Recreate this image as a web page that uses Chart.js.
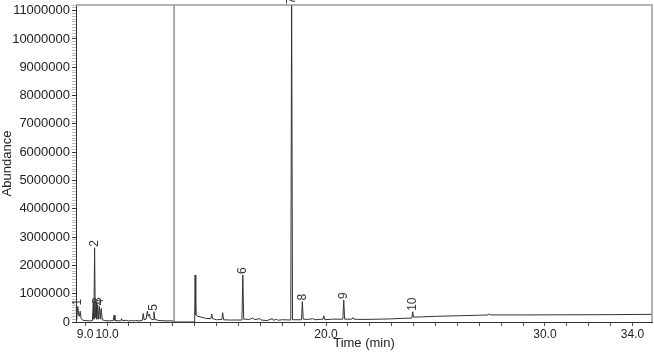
<!DOCTYPE html>
<html>
<head>
<meta charset="utf-8">
<script src="https://cdn.jsdelivr.net/npm/chart.js@4"></script>
<style>
html,body{margin:0;padding:0;background:#fff;}
#wrap{width:654px;height:354px;}
</style>
</head>
<body>
<div id="wrap"><canvas id="c"></canvas></div>
<script>
// retention time (min) and abundance of the trace
const times = [
8.58, 8.62, 8.66, 8.70, 8.74, 8.77, 8.81, 8.90, 9.00, 9.20,
9.33, 9.37, 9.40, 9.43, 9.46, 9.50, 9.53, 9.57, 9.61, 9.65,
9.69, 9.73, 9.78, 9.90, 10.10, 10.28, 10.32, 10.36, 10.62, 10.66,
10.70, 10.90, 11.00, 11.10, 11.20, 11.30, 11.50, 11.61, 11.65, 11.69,
11.78, 11.84, 11.88, 11.93, 11.98, 12.10, 12.14, 12.18, 12.30, 12.60,
13.00, 13.10, 14.00, 14.02, 14.05, 14.15, 14.30, 14.50, 14.74, 14.78,
14.82, 15.00, 15.24, 15.28, 15.32, 15.60, 16.16, 16.20, 16.24, 16.50,
16.65, 16.75, 16.95, 17.05, 17.30, 17.55, 17.60, 17.75, 17.80, 18.00,
18.39, 18.43, 18.47, 18.88, 18.92, 18.96, 19.20, 19.40, 19.50, 19.86,
19.90, 19.94, 20.30, 20.77, 20.81, 20.85, 21.18, 21.23, 21.28, 21.60,
22.50, 23.00, 23.50, 23.92, 23.96, 24.00, 25.00, 26.00, 27.00, 27.40,
27.45, 27.50, 29.00, 31.00, 33.00, 34.89
];
const abundance = [
80000, 150000, 550000, 250000, 200000, 380000, 120000, 60000, 50000, 40000,
50000, 720000, 100000, 2620000, 150000, 700000, 100000, 600000, 100000, 550000,
100000, 480000, 80000, 50000, 40000, 50000, 240000, 50000, 40000, 120000,
50000, 60000, 30000, 60000, 40000, 50000, 40000, 60000, 300000, 80000,
100000, 380000, 200000, 280000, 120000, 80000, 360000, 100000, 60000, 40000,
40000, 0, 0, 1660000, 250000, 200000, 170000, 130000, 120000, 280000,
120000, 80000, 90000, 330000, 80000, 70000, 70000, 1660000, 100000, 90000,
140000, 80000, 120000, 70000, 50000, 120000, 60000, 100000, 60000, 80000,
70000, 11500000, 80000, 80000, 720000, 100000, 90000, 120000, 80000, 100000,
220000, 80000, 100000, 100000, 780000, 100000, 100000, 150000, 100000, 90000,
100000, 110000, 130000, 140000, 360000, 170000, 200000, 220000, 240000, 250000,
290000, 250000, 250000, 255000, 260000, 270000
];

// numbered peaks
const peakNumbers = ["1", "2", "3", "4", "5", "6", "7", "8", "9", "10"];
const peakTimes = [8.66, 9.43, 9.57, 9.65, 12.14, 16.20, 18.43, 18.92, 20.81, 23.96];

const xLabels = [9, 10, 20, 30, 34];
const markerTime = 13.06;

const points = times.map((t, i) => ({x: t, y: abundance[i]}));
const font = "'Liberation Sans', Arial, sans-serif";

/* peak numbers, box and marker line */
const extras = {
  id: "extras",
  afterDatasetsDraw(chart) {
    const ctx = chart.ctx;
    const a = chart.chartArea;
    const xs = chart.scales.x, ys = chart.scales.y;
    ctx.save();
    // marker line
    const mx = xs.getPixelForValue(markerTime);
    ctx.strokeStyle = "#8c8c8c";
    ctx.lineWidth = 1.5;
    ctx.beginPath();
    ctx.moveTo(mx, a.top);
    ctx.lineTo(mx, a.bottom);
    ctx.stroke();
    // top + right frame
    ctx.strokeStyle = "#999";
    ctx.lineWidth = 1.5;
    ctx.beginPath();
    ctx.moveTo(a.left, a.top);
    ctx.lineTo(a.right, a.top);
    ctx.lineTo(a.right, a.bottom);
    ctx.stroke();
    // labels
    ctx.fillStyle = "#333";
    ctx.font = "12px " + font;
    ctx.textAlign = "left";
    ctx.textBaseline = "middle";
    peakNumbers.forEach((n, k) => {
      const i = times.indexOf(peakTimes[k]);
      const px = xs.getPixelForValue(peakTimes[k]);
      const py = Math.max(ys.getPixelForValue(abundance[i]), a.top);
      ctx.save();
      ctx.translate(px, py - 1);
      ctx.rotate(-Math.PI / 2);
      ctx.fillText(n, 0, 0);
      ctx.restore();
    });
    ctx.restore();
  }
};

new Chart(document.getElementById("c"), {
  type: "line",
  data: {
    datasets: [{
      data: points,
      borderColor: "#333",
      borderWidth: 1,
      pointRadius: 0,
      tension: 0,
      fill: false
    }]
  },
  options: {
    responsive: true,
    maintainAspectRatio: false,
    animation: false,
    layout: {padding: {top: 5, right: 2, left: 0, bottom: 0}},
    plugins: {legend: {display: false}, tooltip: {enabled: false}},
    scales: {
      x: {
        type: "linear",
        min: 8.58,
        max: 34.89,
        afterBuildTicks: s => { s.ticks = []; for (let v = 9; v <= 34; v++) s.ticks.push({value: v}); },
        afterFit: s => { s.height = 32; s.paddingLeft = 0; s.paddingRight = 0; },
        ticks: {
          autoSkip: false,
          maxRotation: 0,
          padding: 1,
          color: "#222",
          font: {family: font, size: 12},
          callback: v => xLabels.includes(v) ? v.toFixed(1) : ""
        },
        grid: {drawOnChartArea: false, drawTicks: true, tickLength: 4, tickColor: "#555"},
        border: {display: true, color: "#333", width: 1},
        title: {display: true, text: "Time (min)", color: "#222", font: {family: font, size: 13}, padding: {top: 0, bottom: 3}}
      },
      y: {
        min: 0,
        max: 11200000,
        afterBuildTicks: s => { s.ticks = []; for (let v = 0; v <= 11200000; v += 100000) s.ticks.push({value: v}); },
        afterFit: s => { s.width = 76; s.paddingTop = 0; s.paddingBottom = 0; },
        ticks: {
          autoSkip: false,
          padding: 2,
          color: "#222",
          font: {family: font, size: 13},
          callback: v => v % 1000000 === 0 ? String(v) : ""
        },
        grid: {
          drawOnChartArea: false,
          drawTicks: true,
          tickLength: 4,
          tickColor: c => c.tick && c.tick.value % 1000000 === 0 ? "#333" : "#bbb"
        },
        border: {display: true, color: "#333", width: 1},
        title: {display: true, text: "Abundance", color: "#222", font: {family: font, size: 13}, padding: {top: 0, bottom: 0}}
      }
    }
  },
  plugins: [extras]
});
</script>
</body>
</html>
